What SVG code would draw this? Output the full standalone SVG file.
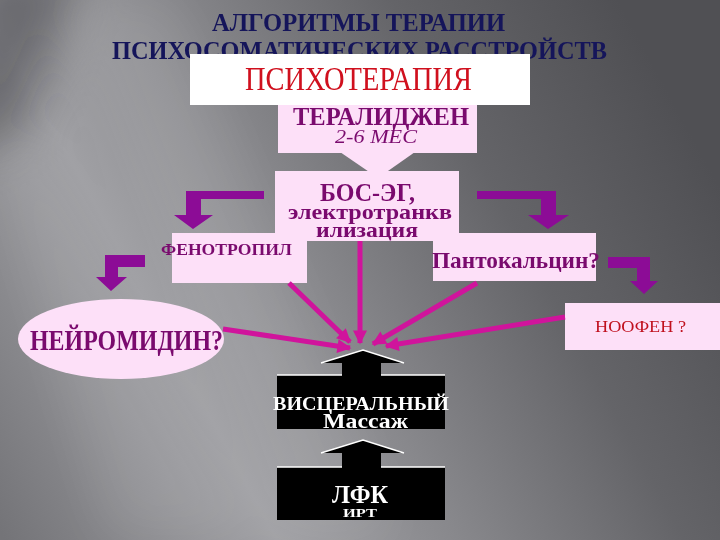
<svg xmlns="http://www.w3.org/2000/svg" width="720" height="540" viewBox="0 0 720 540">
<defs>
<linearGradient id="bg" gradientUnits="userSpaceOnUse" x1="-60" y1="420" x2="640" y2="40">
<stop offset="0" stop-color="#747478"/>
<stop offset="0.3" stop-color="#a0a0a4"/>
<stop offset="0.5" stop-color="#88888c"/>
<stop offset="0.75" stop-color="#646468"/>
<stop offset="1" stop-color="#505054"/>
</linearGradient>
<filter id="soft" x="-50%" y="-50%" width="200%" height="200%">
<feGaussianBlur stdDeviation="25"/>
</filter>
<marker id="ah" viewBox="0 0 10 10" refX="9" refY="5" markerUnits="userSpaceOnUse" markerWidth="16" markerHeight="14" orient="auto">
<path d="M0,0 L10,5 L0,10 z" fill="#d0149c"/>
</marker>
<style>
.pink{fill:#fde0f8}
.white{fill:#ffffff}
.serif{font-family:"Liberation Serif","Times New Roman",serif}
.b{font-weight:bold}
.pt{fill:#7a0a6e}
.wt{fill:#ffffff}
.purp{fill:#8c0c96}
.mag{stroke:#d0149c;stroke-width:5;fill:none;marker-end:url(#ah)}
.blk{fill:#000000}
.hl{fill:none;stroke:#ffffff;stroke-width:1.5}
</style>
</defs>
<rect x="0" y="0" width="720" height="540" fill="url(#bg)"/>
<g filter="url(#soft)">
<polygon points="70,0 170,0 400,540 280,540" fill="#ffffff" opacity="0.08"/>
<polygon points="0,170 40,150 260,540 110,540" fill="#ffffff" opacity="0.08"/>
<polygon points="-40,-40 90,-40 20,130 -40,160" fill="#3a3a3e" opacity="0.5"/>
</g>

<g id="title">
<text class="serif b" x="212" y="31" font-size="26" fill="#15155a" textLength="293" lengthAdjust="spacingAndGlyphs">АЛГОРИТМЫ ТЕРАПИИ</text>
<text class="serif b" x="112" y="59" font-size="26" fill="#15155a" textLength="495" lengthAdjust="spacingAndGlyphs">ПСИХОСОМАТИЧЕСКИХ РАССТРОЙСТВ</text>
</g>

<g id="psychotherapy">
<rect class="white" x="190" y="54" width="340" height="51"/>
<text class="serif" x="245" y="90" font-size="34" fill="#d0101e" textLength="227" lengthAdjust="spacingAndGlyphs">ПСИХОТЕРАПИЯ</text>
</g>

<g id="teralidzhen">
<rect class="pink" x="278" y="105" width="199" height="48"/>
<polygon class="pink" points="340,152 415,152 378,178"/>
<text class="serif b pt" x="293" y="125" font-size="26" textLength="176" lengthAdjust="spacingAndGlyphs">ТЕРАЛИДЖЕН</text>
<text class="serif pt" x="335" y="143" font-size="18" font-style="italic" textLength="82" lengthAdjust="spacingAndGlyphs">2-6 МЕС</text>
</g>

<g id="bos">
<rect class="pink" x="275" y="171" width="184" height="70"/>
<text class="serif b pt" x="320" y="201" font-size="25" textLength="95" lengthAdjust="spacingAndGlyphs">БОС-ЭГ,</text>
<text class="serif b pt" x="288" y="219" font-size="22" textLength="164" lengthAdjust="spacingAndGlyphs">электротранкв</text>
<text class="serif b pt" x="316" y="237" font-size="22" textLength="102" lengthAdjust="spacingAndGlyphs">илизация</text>
</g>

<g id="fenotropil">
<rect class="pink" x="172" y="233" width="135" height="50"/>
<text class="serif b pt" x="161" y="255" font-size="16" textLength="131" lengthAdjust="spacingAndGlyphs">ФЕНОТРОПИЛ</text>
</g>

<g id="pantokalcin">
<rect class="pink" x="433" y="233" width="163" height="48"/>
<text class="serif b pt" x="432" y="268" font-size="24" textLength="168" lengthAdjust="spacingAndGlyphs">Пантокальцин?</text>
</g>

<g id="noofen">
<rect class="pink" x="565" y="303" width="155" height="47"/>
<text class="serif" x="595" y="332" font-size="17" fill="#c0101e" textLength="91" lengthAdjust="spacingAndGlyphs">НООФЕН ?</text>
</g>

<g id="neiromidin">
<ellipse class="pink" cx="121" cy="339" rx="103" ry="40"/>
<text class="serif b pt" x="30" y="350" font-size="30" textLength="193" lengthAdjust="spacingAndGlyphs">НЕЙРОМИДИН?</text>
</g>

<g id="visceral">
<polygon class="blk" points="363,350 404,363 381,363 381,375 445,375 445,429 277,429 277,375 342,375 342,363 321,363"/>
<polyline class="hl" points="321,363 363,350 404,363"/>
<polyline class="hl" points="277,375 342,375"/>
<polyline class="hl" points="381,375 445,375"/>
<text class="serif b wt" x="273" y="410" font-size="19" textLength="176" lengthAdjust="spacingAndGlyphs">ВИСЦЕРАЛЬНЫЙ</text>
<text class="serif b wt" x="323" y="428" font-size="21" textLength="85" lengthAdjust="spacingAndGlyphs">Массаж</text>
</g>

<g id="lfk">
<polygon class="blk" points="363,440 404,453 381,453 381,467 445,467 445,520 277,520 277,467 342,467 342,453 321,453"/>
<polyline class="hl" points="321,453 363,440 404,453"/>
<polyline class="hl" points="277,467 342,467"/>
<polyline class="hl" points="381,467 445,467"/>
<text class="serif b wt" x="332" y="503" font-size="26" textLength="56" lengthAdjust="spacingAndGlyphs">ЛФК</text>
<text class="serif b wt" x="343" y="517" font-size="13" textLength="34" lengthAdjust="spacingAndGlyphs">ИРТ</text>
</g>

<g id="connectors">
<path class="purp" d="M264,191 L186,191 L186,215 L174,215 L193,229 L213,215 L201,215 L201,199 L264,199 z"/>
<path class="purp" d="M477,191 L556,191 L556,215 L569,215 L548,229 L528,215 L541,215 L541,199 L477,199 z"/>
<path class="purp" d="M145,255 L105,255 L105,277 L96,277 L111,291 L127,277 L118,277 L118,267 L145,267 z"/>
<path class="purp" d="M608,257 L650,257 L650,281 L658,281 L644,294 L630,281 L637,281 L637,268 L608,268 z"/>
<line class="mag" x1="289" y1="283" x2="350" y2="342"/>
<line class="mag" x1="360" y1="241" x2="360" y2="343"/>
<line class="mag" x1="477" y1="283" x2="373" y2="344"/>
<line class="mag" x1="223" y1="329" x2="350" y2="348"/>
<line class="mag" x1="565" y1="317" x2="386" y2="346"/>
</g>
</svg>
